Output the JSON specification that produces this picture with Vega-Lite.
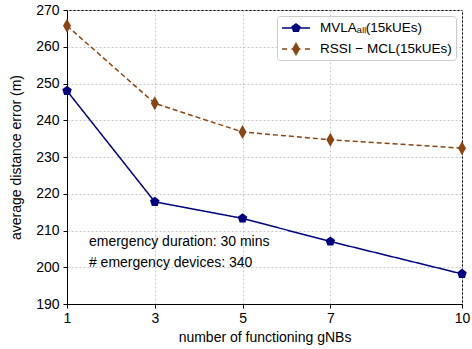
{
  "$schema": "https://vega.github.io/schema/vega-lite/v6.json",
  "width": 395,
  "height": 294,
  "autosize": {"type": "none"},
  "padding": {"left": 67, "top": 10, "right": 10, "bottom": 45},
  "config": {
    "font": "Liberation Sans",
    "view": {"stroke": "black", "strokeWidth": 1},
    "axis": {
      "labelFont": "Liberation Sans",
      "titleFont": "Liberation Sans",
      "labelFontSize": 14,
      "titleFontSize": 14,
      "titleFontWeight": "normal",
      "labelColor": "black",
      "titleColor": "black",
      "domainColor": "black",
      "tickColor": "black",
      "tickSize": 4,
      "gridColor": "#c8c8c8",
      "gridDash": [2, 2],
      "gridWidth": 1
    }
  },
  "encoding": {
    "x": {
      "field": "gnbs", "type": "quantitative",
      "scale": {"domain": [1, 10], "nice": false, "zero": false},
      "axis": {"values": [1, 3, 5, 7, 10], "title": "number of functioning gNBs", "labelPadding": 3, "titlePadding": 5, "labelFlush": false}
    },
    "y": {
      "field": "error", "type": "quantitative",
      "scale": {"domain": [190, 270], "nice": false, "zero": false},
      "axis": {"values": [190, 200, 210, 220, 230, 240, 250, 260, 270], "title": "average distance error (m)", "labelPadding": 4, "titlePadding": 12}
    }
  },
  "layer": [
    {
      "data": {
        "values": [
          {"gnbs": 1, "error": 248.0, "series": "MVLA"},
          {"gnbs": 3, "error": 217.8, "series": "MVLA"},
          {"gnbs": 5, "error": 213.3, "series": "MVLA"},
          {"gnbs": 7, "error": 207.0, "series": "MVLA"},
          {"gnbs": 10, "error": 198.2, "series": "MVLA"},
          {"gnbs": 1, "error": 265.7, "series": "RSSI"},
          {"gnbs": 3, "error": 244.6, "series": "RSSI"},
          {"gnbs": 5, "error": 236.8, "series": "RSSI"},
          {"gnbs": 7, "error": 234.7, "series": "RSSI"},
          {"gnbs": 10, "error": 232.4, "series": "RSSI"}
        ]
      },
      "layer": [
        {
          "mark": {"type": "line", "strokeWidth": 1.5},
          "encoding": {
            "color": {
              "field": "series", "type": "nominal",
              "scale": {"domain": ["MVLA", "RSSI"], "range": ["#000080", "#8B4513"]},
              "legend": {
                "title": null,
                "orient": "top-right",
                "offset": 6,
                "labelExpr": "datum.value === 'MVLA' ? 'MVLAₐₗₗ(15kUEs)' : 'RSSI − MCL(15kUEs)'",
                "labelFont": "Liberation Sans",
                "labelFontSize": 13.5,
                "labelColor": "black",
                "labelOffset": 23,
                "symbolSize": 256,
                "symbolType": "M-0.875,-0.09L2.625,-0.09L2.625,0.09L-0.875,0.09Z",
                "rowPadding": 6,
                "padding": 4,
                "strokeColor": "#cccccc",
                "fillColor": "white",
                "cornerRadius": 3,
                "encode": {
                  "symbols": {
                    "update": {
                      "shape": {"signal": "datum.value === 'MVLA' ? 'M-0.875,-0.09L2.625,-0.09L2.625,0.09L-0.875,0.09Z M0.875,-0.625L1.469,-0.193L1.242,0.506L0.508,0.506L0.281,-0.193Z' : 'M-0.875,-0.09L-0.25,-0.09L-0.25,0.09L-0.875,0.09Z M0.3,-0.09L1.45,-0.09L1.45,0.09L0.3,0.09Z M2.0,-0.09L2.625,-0.09L2.625,0.09L2.0,0.09Z M0.875,-0.875L1.375,0L0.875,0.875L0.375,0Z'"},
                      "size": {"value": 256},
                      "fill": {"signal": "datum.value === 'MVLA' ? '#000080' : '#8B4513'"},
                      "fillOpacity": {"value": 1},
                      "strokeWidth": {"value": 0},
                      "strokeDash": {"value": []}
                    }
                  }
                }
              }
            },
            "strokeDash": {
              "field": "series", "type": "nominal",
              "scale": {"domain": ["MVLA", "RSSI"], "range": [[1, 0], [5, 3]]},
              "legend": null
            }
          }
        },
        {
          "transform": [{"filter": "datum.series === 'MVLA'"}],
          "mark": {"type": "point", "filled": true, "opacity": 1, "strokeWidth": 0, "color": "#000080", "size": 100, "shape": "M0,-1L0.951,-0.309L0.588,0.809L-0.588,0.809L-0.951,-0.309Z"}
        },
        {
          "transform": [{"filter": "datum.series === 'RSSI'"}],
          "mark": {"type": "point", "filled": true, "opacity": 1, "strokeWidth": 0, "color": "#8B4513", "size": 196, "shape": "M0,-1L0.57,0L0,1L-0.57,0Z"}
        }
      ]
    },
    {
      "data": {
        "values": [
          {"gnbs": 1.5, "error": 206.9, "note": "emergency duration: 30 mins"},
          {"gnbs": 1.5, "error": 201.2, "note": "# emergency devices: 340"}
        ]
      },
      "mark": {"type": "text", "align": "left", "baseline": "middle", "fontSize": 14, "font": "Liberation Sans", "fill": "black"},
      "encoding": {
        "text": {"field": "note", "type": "nominal"}
      }
    }
  ]
}
